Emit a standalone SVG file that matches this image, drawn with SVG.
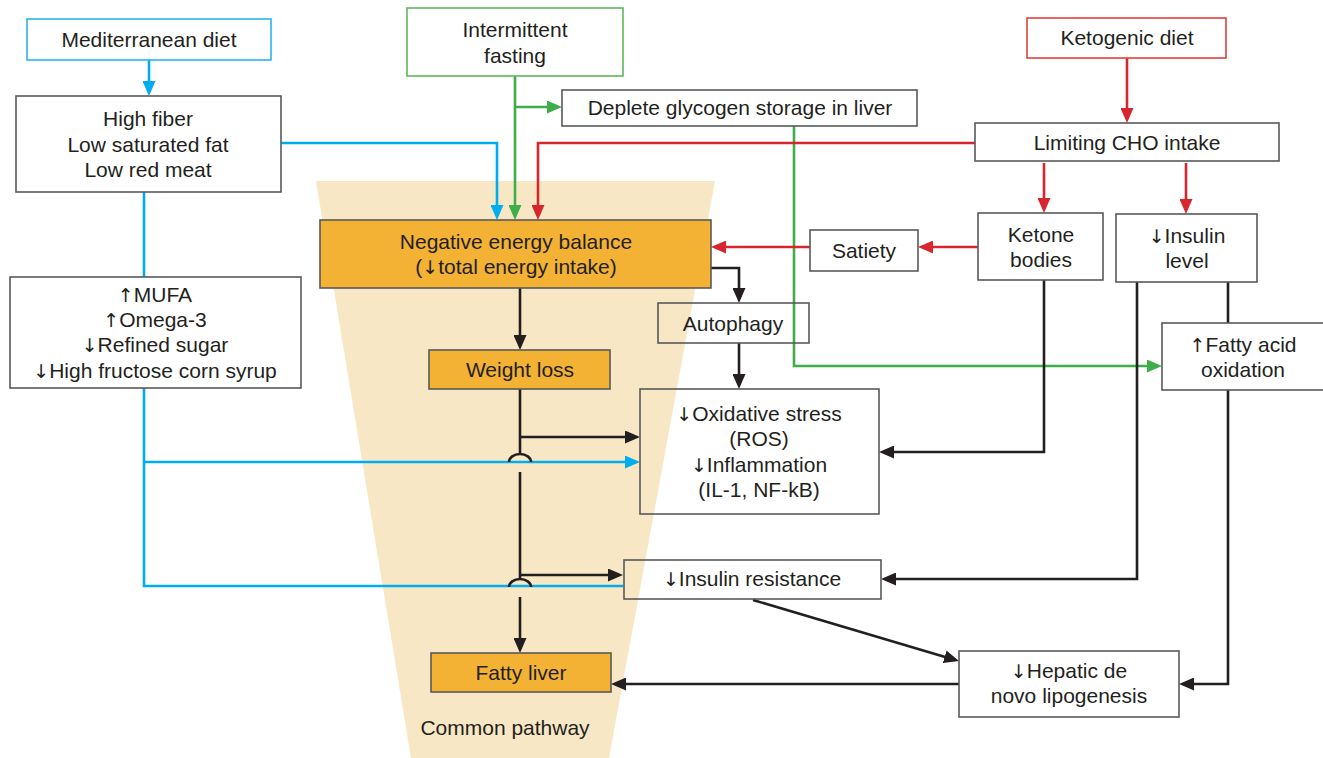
<svg xmlns="http://www.w3.org/2000/svg" width="1323" height="758" viewBox="0 0 1323 758">
<defs>
<style>
.box{fill:none;stroke:#58595b;stroke-width:1.6}
.ob{fill:#f3b234;stroke:#58595b;stroke-width:1.6}
.t{font-family:"Liberation Sans",Arial,"DejaVu Sans",sans-serif;font-size:21px;fill:#231f20;text-anchor:middle}
.a{font-family:"DejaVu Sans",sans-serif;font-size:19px;fill:#231f20}
.cb{fill:none;stroke:#00aeef;stroke-width:2.6}
.cg{fill:none;stroke:#3dae49;stroke-width:2.6}
.cr{fill:none;stroke:#d7262d;stroke-width:2.6}
.ck{fill:none;stroke:#231f20;stroke-width:2.6}
</style>
<marker id="ab" viewBox="0 0 15 13" refX="11" refY="6.5" markerWidth="15" markerHeight="13" markerUnits="userSpaceOnUse" orient="auto"><path d="M0,0 L15,6.5 L0,13 z" fill="#00aeef"/></marker>
<marker id="ag" viewBox="0 0 15 13" refX="11" refY="6.5" markerWidth="15" markerHeight="13" markerUnits="userSpaceOnUse" orient="auto"><path d="M0,0 L15,6.5 L0,13 z" fill="#3dae49"/></marker>
<marker id="ar" viewBox="0 0 15 13" refX="11" refY="6.5" markerWidth="15" markerHeight="13" markerUnits="userSpaceOnUse" orient="auto"><path d="M0,0 L15,6.5 L0,13 z" fill="#d7262d"/></marker>
<marker id="ak" viewBox="0 0 15 13" refX="11" refY="6.5" markerWidth="15" markerHeight="13" markerUnits="userSpaceOnUse" orient="auto"><path d="M0,0 L15,6.5 L0,13 z" fill="#231f20"/></marker>
</defs>
<rect width="1323" height="758" fill="#ffffff"/>
<g id="common-pathway">
<polygon points="316,181 715,181 609,758 411,758" fill="#f8e7c4"/>
<text class="t" x="505" y="735">Common pathway</text>
</g>
<g id="connectors">
<path class="cb" d="M149,60 V92" marker-end="url(#ab)"/>
<path class="cb" d="M281,143 H497 V216" marker-end="url(#ab)"/>
<path class="cb" d="M144,192 V277"/>
<path class="cb" d="M144,388 V586 H623"/>
<path class="cb" d="M144,462 H636" marker-end="url(#ab)"/>
<path class="cg" d="M515,76 V216" marker-end="url(#ag)"/>
<path class="cg" d="M515,107 H558" marker-end="url(#ag)"/>
<path class="cg" d="M794,126 V366 H1158" marker-end="url(#ag)"/>
<path class="cr" d="M1127,58 V119" marker-end="url(#ar)"/>
<path class="cr" d="M975,143 H538 V216" marker-end="url(#ar)"/>
<path class="cr" d="M1044,163 V209" marker-end="url(#ar)"/>
<path class="cr" d="M1186,163 V210" marker-end="url(#ar)"/>
<path class="cr" d="M978,247 H922" marker-end="url(#ar)"/>
<path class="cr" d="M810,247 H715" marker-end="url(#ar)"/>
<path class="ck" d="M520,288 V346" marker-end="url(#ak)"/>
<path class="ck" d="M711,268 H739 V299" marker-end="url(#ak)"/>
<path class="ck" d="M739,343 V385" marker-end="url(#ak)"/>
<path class="ck" d="M520,389 V455"/>
<path class="ck" d="M509,462 A11,8 0 0 1 531,462"/>
<path class="ck" d="M520,472 V580"/>
<path class="ck" d="M509,587 A11,8 0 0 1 531,587"/>
<path class="ck" d="M520,597 V649" marker-end="url(#ak)"/>
<path class="ck" d="M520,437 H636" marker-end="url(#ak)"/>
<path class="ck" d="M520,575 H619" marker-end="url(#ak)"/>
<path class="ck" d="M1044,280 V452 H883" marker-end="url(#ak)"/>
<path class="ck" d="M1137,282 V579 H885" marker-end="url(#ak)"/>
<path class="ck" d="M1228,282 V323"/>
<path class="ck" d="M1228,390 V684 H1183" marker-end="url(#ak)"/>
<path class="ck" d="M753,600 L955.2,659.9" marker-end="url(#ak)"/>
<path class="ck" d="M959,684 H615" marker-end="url(#ak)"/>
</g>
<g id="mediterranean-diet">
<rect x="27" y="19" width="244" height="41" fill="none" stroke="#29b5ec" stroke-width="1.6"/>
<text class="t" x="149" y="47">Mediterranean diet</text>
</g>
<g id="high-fiber">
<rect class="box" x="16" y="96" width="265" height="96"/>
<text class="t" x="148" y="126">High fiber</text>
<text class="t" x="148" y="151.5">Low saturated fat</text>
<text class="t" x="148" y="177">Low red meat</text>
</g>
<g id="mufa">
<rect class="box" x="10" y="277" width="291" height="111"/>
<text class="t" x="155" y="302"><tspan class="a">↑</tspan>MUFA</text>
<text class="t" x="155" y="327"><tspan class="a">↑</tspan>Omega-3</text>
<text class="t" x="155" y="352"><tspan class="a">↓</tspan>Refined sugar</text>
<text class="t" x="155" y="378"><tspan class="a">↓</tspan>High fructose corn syrup</text>
</g>
<g id="intermittent-fasting">
<rect x="407" y="8" width="216" height="68" fill="none" stroke="#5cb85c" stroke-width="1.6"/>
<text class="t" x="515" y="37">Intermittent</text>
<text class="t" x="515" y="63">fasting</text>
</g>
<g id="deplete-glycogen">
<rect class="box" x="562" y="90" width="355" height="36"/>
<text class="t" x="740" y="115">Deplete glycogen storage in liver</text>
</g>
<g id="ketogenic-diet">
<rect x="1027" y="18" width="199" height="40" fill="none" stroke="#e0433b" stroke-width="1.6"/>
<text class="t" x="1127" y="45">Ketogenic diet</text>
</g>
<g id="limiting-cho">
<rect class="box" x="975" y="123" width="304" height="38"/>
<text class="t" x="1127" y="150">Limiting CHO intake</text>
</g>
<g id="ketone-bodies">
<rect class="box" x="978" y="213" width="125" height="67"/>
<text class="t" x="1041" y="242">Ketone</text>
<text class="t" x="1041" y="267">bodies</text>
</g>
<g id="insulin-level">
<rect class="box" x="1116" y="214" width="141" height="68"/>
<text class="t" x="1187" y="243"><tspan class="a">↓</tspan>Insulin</text>
<text class="t" x="1187" y="268">level</text>
</g>
<g id="satiety">
<rect class="box" x="810" y="230" width="108" height="41"/>
<text class="t" x="864" y="258">Satiety</text>
</g>
<g id="negative-energy-balance">
<rect class="ob" x="320" y="220" width="391" height="68"/>
<text class="t" x="516" y="249">Negative energy balance</text>
<text class="t" x="516" y="274">(<tspan class="a">↓</tspan>total energy intake)</text>
</g>
<g id="autophagy">
<rect class="box" x="658" y="303" width="151" height="40"/>
<text class="t" x="733" y="331">Autophagy</text>
</g>
<g id="weight-loss">
<rect class="ob" x="429" y="350" width="181" height="39"/>
<text class="t" x="520" y="377">Weight loss</text>
</g>
<g id="fatty-acid-oxidation">
<rect class="box" x="1162" y="323" width="163" height="67"/>
<text class="t" x="1243" y="352"><tspan class="a">↑</tspan>Fatty acid</text>
<text class="t" x="1243" y="377">oxidation</text>
</g>
<g id="oxidative-stress">
<rect class="box" x="640" y="389" width="239" height="125"/>
<text class="t" x="759" y="421"><tspan class="a">↓</tspan>Oxidative stress</text>
<text class="t" x="759" y="446">(ROS)</text>
<text class="t" x="759" y="472"><tspan class="a">↓</tspan>Inflammation</text>
<text class="t" x="759" y="497">(IL-1, NF-kB)</text>
</g>
<g id="insulin-resistance">
<rect class="box" x="624" y="560" width="257" height="39"/>
<text class="t" x="752" y="586"><tspan class="a">↓</tspan>Insulin resistance</text>
</g>
<g id="hepatic-lipogenesis">
<rect class="box" x="959" y="651" width="220" height="66"/>
<text class="t" x="1069" y="678"><tspan class="a">↓</tspan>Hepatic de</text>
<text class="t" x="1069" y="703">novo lipogenesis</text>
</g>
<g id="fatty-liver">
<rect class="ob" x="431" y="653" width="180" height="39"/>
<text class="t" x="521" y="680">Fatty liver</text>
</g>
</svg>
